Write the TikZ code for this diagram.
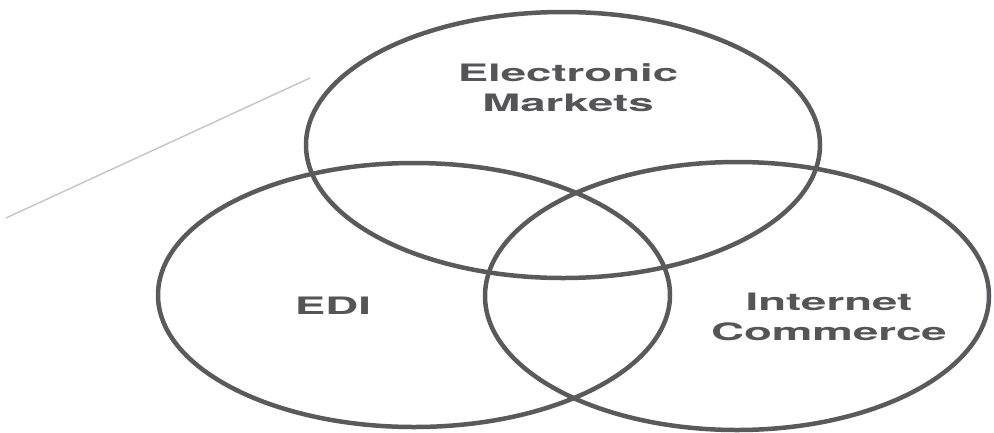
\documentclass[tikz,border=0pt]{standalone}
\usepackage{fontspec}
\usepackage{xcolor}
\usetikzlibrary{shapes.geometric}
\newfontfamily\vennfont[FakeStretch=1.9]{TeX Gyre Heros}
\definecolor{ringgray}{HTML}{5A5A5C}
\definecolor{inkgray}{HTML}{555557}
\definecolor{scanline}{HTML}{C4C4C6}

\begin{document}
\begin{tikzpicture}[x=1pt, y=-1pt,
  ring/.style={ellipse, draw=ringgray, line width=4.5pt, inner sep=0pt},
  setlabel/.style={text=inkgray, align=center, font=\vennfont\bfseries\fontsize{24}{30}\selectfont}]
  \useasboundingbox (0,0) rectangle (994,432);
  \coordinate (scanA) at (6,218);
  \coordinate (scanB) at (310,78);
  \draw[scanline, line width=1.4pt] (scanA) -- (scanB);
  \node[ring, minimum width=514pt, minimum height=266pt] (markets) at (563,145) {};
  \node[ring, minimum width=512pt, minimum height=264pt] (edi) at (414,295) {};
  \node[ring, minimum width=504pt, minimum height=268pt] (commerce) at (737,296) {};
  \node[setlabel] (marketslbl) at (568,88) {Electronic\\Markets};
  \node[setlabel] (edilbl) at (333,306) {EDI};
  \node[setlabel] (commercelbl) at (829,317) {Internet\\Commerce};
\end{tikzpicture}
\end{document}
